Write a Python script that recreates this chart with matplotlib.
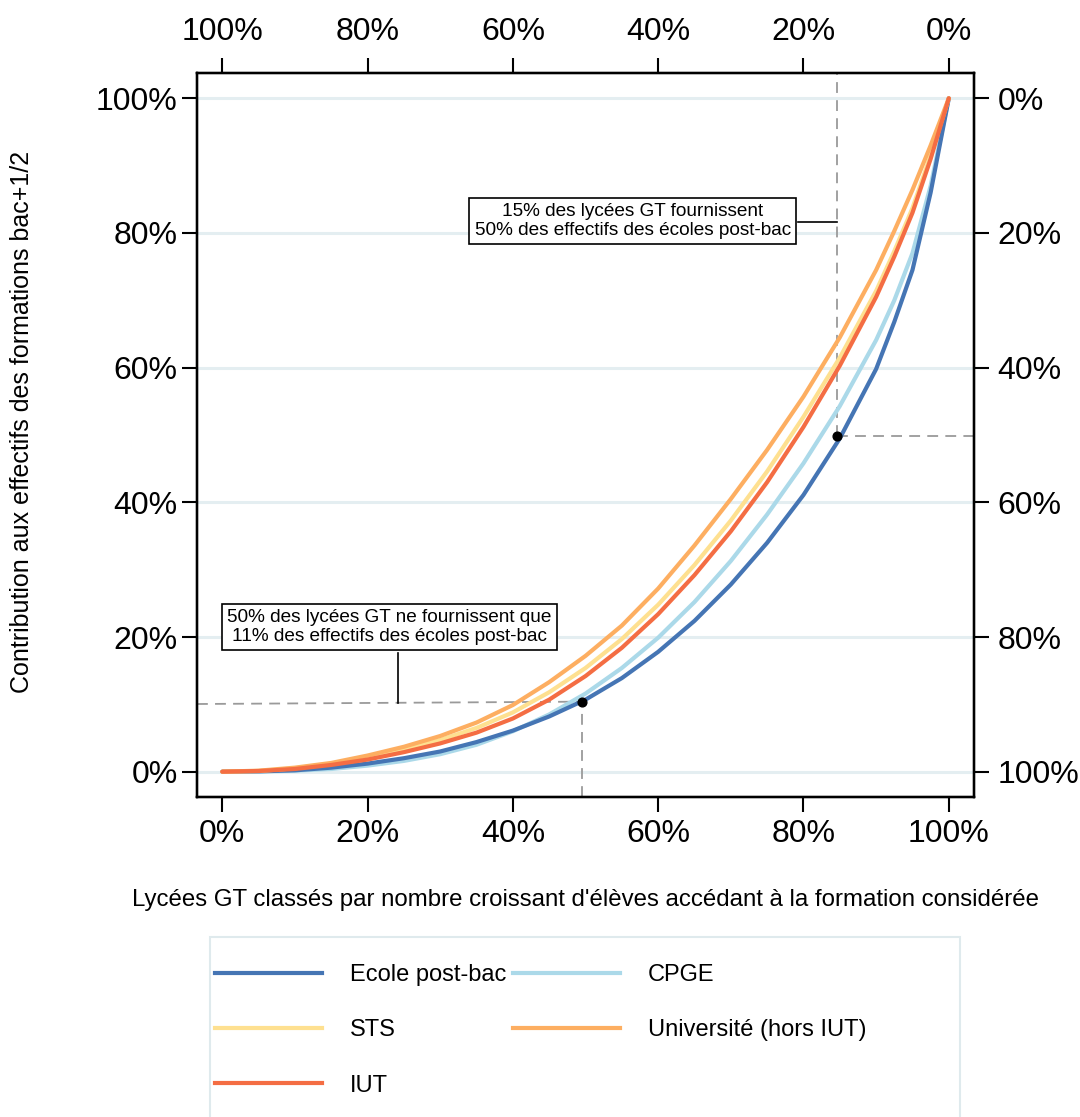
import matplotlib
matplotlib.use("Agg")
import matplotlib.pyplot as plt
from matplotlib.lines import Line2D
from matplotlib.patches import Rectangle

plt.rcParams['font.family'] = ['Liberation Sans', 'DejaVu Sans']

# ---- data ----
x_share = [0, 0.05, 0.10, 0.15, 0.20, 0.25, 0.30, 0.35, 0.40, 0.45, 0.50,
           0.55, 0.60, 0.65, 0.70, 0.75, 0.80, 0.85, 0.90, 0.925, 0.95, 0.975, 1.0]
ecole = [0, 0.0005, 0.002, 0.006, 0.012, 0.020, 0.030, 0.044, 0.061, 0.082, 0.107,
         0.139, 0.178, 0.224, 0.278, 0.340, 0.411, 0.495, 0.598, 0.668, 0.745, 0.860, 1.0]
cpge = [0, 0.0003, 0.0015, 0.004, 0.009, 0.016, 0.026, 0.040, 0.060, 0.085, 0.116,
        0.154, 0.199, 0.252, 0.313, 0.382, 0.458, 0.543, 0.641, 0.700, 0.770, 0.870, 1.0]
sts = [0, 0.001, 0.005, 0.012, 0.021, 0.033, 0.047, 0.065, 0.088, 0.118, 0.154,
       0.197, 0.248, 0.307, 0.373, 0.446, 0.527, 0.615, 0.714, 0.773, 0.837, 0.915, 1.0]
univ = [0, 0.0015, 0.006, 0.013, 0.024, 0.037, 0.053, 0.073, 0.099, 0.133, 0.172,
        0.217, 0.272, 0.336, 0.405, 0.478, 0.557, 0.645, 0.745, 0.803, 0.864, 0.930, 1.0]
iut = [0, 0.001, 0.004, 0.010, 0.018, 0.029, 0.042, 0.058, 0.079, 0.107, 0.142,
       0.184, 0.234, 0.292, 0.357, 0.430, 0.512, 0.603, 0.705, 0.765, 0.830, 0.910, 1.0]

series_names = ["Ecole post-bac", "CPGE", "STS", "Université (hors IUT)", "IUT"]
series_colors = ["#4575b4", "#abd9e9", "#fee090", "#fdae61", "#f46d43"]

ticks = [0, 0.2, 0.4, 0.6, 0.8, 1.0]
bottom_labels = ["0%", "20%", "40%", "60%", "80%", "100%"]
top_labels = ["100%", "80%", "60%", "40%", "20%", "0%"]
left_labels = ["0%", "20%", "40%", "60%", "80%", "100%"]
right_labels = ["100%", "80%", "60%", "40%", "20%", "0%"]

point_low = (0.495, 0.104)
point_high = (0.846, 0.4985)

W, H = 1080, 1117
fig = plt.figure(figsize=(W / 100, H / 100), dpi=100)
ax = fig.add_axes([197 / W, 1 - 797 / H, (974 - 197) / W, (797 - 73) / H])
xlim = (-0.0348, 1.0347)
ylim = (-0.0376, 1.0376)
ax.set_xlim(*xlim)
ax.set_ylim(*ylim)

# grid
for t in ticks:
    ax.axhline(t, color="#e4eef1", lw=2.2, zorder=0)

data = {"Ecole post-bac": ecole, "CPGE": cpge, "STS": sts,
        "Université (hors IUT)": univ, "IUT": iut}
order = ["CPGE", "Ecole post-bac", "STS", "Université (hors IUT)", "IUT"]
for name in order:
    c = series_colors[series_names.index(name)]
    ax.plot(x_share, data[name], color=c, lw=3.0, solid_capstyle="round",
            solid_joinstyle="round", zorder=3)

# dashed guides
dcol = "#9a9a9a"
dash = dict(color=dcol, lw=1.3, ls=(0, (6, 4)), zorder=2)
ax.plot([xlim[0], point_low[0]], [0.1005, point_low[1]], **dash)
ax.plot([point_low[0], point_low[0]], [ylim[0], point_low[1]], **dash)
ax.plot([point_high[0], point_high[0]], [point_high[1], ylim[1]], **dash)
ax.plot([point_high[0], xlim[1]], [point_high[1], point_high[1]], **dash)

# points
ax.plot([point_low[0], point_high[0]], [point_low[1], point_high[1]], "o",
        color="black", ms=6.3, zorder=6)

# connectors
ax.plot([0.242, 0.242], [0.176, 0.1015], color="black", lw=1.2, zorder=4)
ax.plot([0.792, 0.846], [0.817, 0.817], color="black", lw=1.2, zorder=4)

bbox = dict(boxstyle="square,pad=0.28", fc="white", ec="black", lw=1.2)
ax.text(0.2295, 0.2149, "50% des lycées GT ne fournissent que\n11% des effectifs des écoles post-bac",
        ha="center", va="center", fontsize=13.7, bbox=bbox, zorder=5, linespacing=1.15)
ax.text(0.565, 0.818, "15% des lycées GT fournissent\n50% des effectifs des écoles post-bac",
        ha="center", va="center", fontsize=13.7, bbox=bbox, zorder=5, linespacing=1.15)

# axes styling
for s in ax.spines.values():
    s.set_linewidth(1.6)
ax.set_xticks(ticks)
ax.set_xticklabels(bottom_labels)
ax.set_yticks(ticks)
ax.set_yticklabels(left_labels)
ax.tick_params(axis="both", direction="out", length=11, width=1.5, labelsize=23)
ax.tick_params(axis="x", pad=5)
ax.tick_params(axis="y", pad=3)

axt = ax.twiny()
axt.set_xlim(*xlim)
axt.set_xticks(ticks)
axt.set_xticklabels(top_labels)
axt.tick_params(axis="x", direction="out", length=11, width=1.5, labelsize=23, pad=8)
axr = ax.twinx()
axr.set_ylim(*ylim)
axr.set_yticks(ticks)
axr.set_yticklabels(right_labels)
axr.tick_params(axis="y", direction="out", length=11, width=1.5, labelsize=23, pad=6)
for a in (axt, axr):
    for s in a.spines.values():
        s.set_linewidth(1.6)

fig.text(586 / W, 1 - 900 / H,
         "Lycées GT classés par nombre croissant d'élèves accédant à la formation considérée",
         ha="center", va="center", fontsize=17.3)
fig.text(22 / W, 1 - 422 / H, "Contribution aux effectifs des formations bac+1/2",
         ha="center", va="center", rotation=90, fontsize=18)

# legend frame
fig.patches.append(Rectangle((210 / W, -0.02), 750 / W, 0.02 + (1 - 937 / H),
                             transform=fig.transFigure, fill=False,
                             ec="#dfeaed", lw=1.5))
leg_order = ["Ecole post-bac", "STS", "IUT", "CPGE", "Université (hors IUT)"]
leg_handles = [Line2D([], [], color=series_colors[series_names.index(n)], lw=3.0) for n in leg_order]
fig.legend(leg_handles, leg_order, loc="upper left",
           bbox_to_anchor=(215 / W, 1 - 964 / H), ncol=2, frameon=False,
           fontsize=17, handlelength=4.55, handletextpad=1.15, columnspacing=0.3,
           labelspacing=1.41, borderpad=0, borderaxespad=0)

fig.savefig("out.png", dpi=100)
